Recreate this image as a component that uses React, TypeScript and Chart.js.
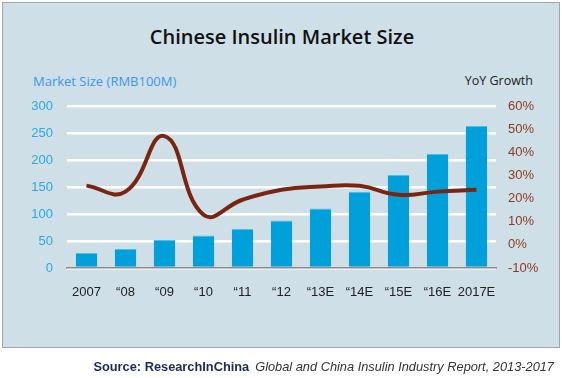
import React, { useEffect, useRef } from "react";
import { Chart, registerables } from "chart.js";

Chart.register(...registerables);

const categories = ["2007", "“08", "“09", "“10", "“11", "“12", "“13E", "“14E", "“15E", "“16E", "2017E"];
const marketSize = [28, 35, 52, 60, 72, 88, 110, 141, 172, 211, 263];
const yoyGrowth = [25.6, 23, 47, 13, 19.5, 23.8, 25.2, 25.5, 21.6, 23, 23.8];
const leftTicks = [0, 50, 100, 150, 200, 250, 300];
const rightTicks = [-10, 0, 10, 20, 30, 40, 50, 60];

const TICK_FONT = { family: "'Liberation Sans', Arial, sans-serif", size: 13 };

export default function App() {
  const ref = useRef<HTMLCanvasElement | null>(null);

  useEffect(() => {
    document.body.style.margin = "0";
    const canvas = ref.current;
    if (!canvas) return;
    const chart = new Chart(canvas, {
      type: "bar",
      data: {
        labels: categories,
        datasets: [
          {
            type: "line",
            label: "YoY Growth",
            data: yoyGrowth,
            yAxisID: "y1",
            borderColor: "#7A2412",
            borderWidth: 4,
            pointRadius: 0,
            tension: 0.45,
            order: 0,
          },
          {
            type: "bar",
            label: "Market Size",
            data: marketSize,
            yAxisID: "y",
            backgroundColor: "#02A0DA",
            borderColor: "#4DC0EA",
            borderWidth: { top: 1, left: 0, right: 0, bottom: 0 },
            categoryPercentage: 1,
            barPercentage: 0.55,
            order: 1,
          },
        ],
      },
      options: {
        animation: false,
        responsive: false,
        maintainAspectRatio: false,
        devicePixelRatio: 1,
        layout: { padding: { top: 106, left: 0, right: 0, bottom: 0 } },
        plugins: { legend: { display: false }, tooltip: { enabled: false }, title: { display: false } },
        scales: {
          x: {
            grid: { display: false, drawTicks: false },
            border: { display: true, color: "#8A8A8A", width: 1.5 },
            ticks: { color: "#222", font: TICK_FONT, padding: 17, maxRotation: 0, autoSkip: false },
            afterFit: (s: any) => { s.height = 110; },
          },
          y: {
            position: "left",
            min: 0,
            max: 300,
            afterBuildTicks: (s: any) => { s.ticks = leftTicks.map((v) => ({ value: v })); },
            grid: { color: "#FFFFFF", lineWidth: 2.5, drawTicks: false },
            border: { display: false },
            ticks: { color: "#2AA8E0", font: TICK_FONT, padding: 14 },
            afterFit: (s: any) => { s.width = 67; },
          },
          y1: {
            position: "right",
            min: -10,
            max: 60,
            afterBuildTicks: (s: any) => { s.ticks = rightTicks.map((v) => ({ value: v })); },
            grid: { display: false, drawTicks: false },
            border: { display: false },
            ticks: { color: "#8E3A20", font: TICK_FONT, padding: 12, callback: (v: any) => `${v}%` },
            afterFit: (s: any) => { s.width = 66; },
          },
        },
      },
    });
    return () => chart.destroy();
  }, []);

  return (
    <div style={{ position: "relative", width: 562, height: 378, overflow: "hidden", background: "#fff" }}>
      <div
        style={{
          position: "absolute",
          left: 2,
          top: 2,
          width: 556,
          height: 344,
          background: "#CFDFE7",
          border: "1px solid #A2A6A8",
        }}
      />
      <div
        style={{
          position: "absolute",
          left: 0,
          width: 562,
          top: 23,
          textAlign: "center",
          fontFamily: "'Open Sans', sans-serif",
          fontWeight: 600,
          fontSize: 20,
          color: "#111",
        }}
      >
        <span style={{ position: "relative", left: 1 }}>Chinese Insulin Market Size</span>
      </div>
      <div
        style={{
          position: "absolute",
          left: 33,
          top: 72,
          fontFamily: "'Open Sans', sans-serif",
          fontSize: 13,
          color: "#3A98E8",
        }}
      >
        Market Size (RMB100M)
      </div>
      <div
        style={{
          position: "absolute",
          right: 29,
          top: 72,
          fontFamily: "'Open Sans', sans-serif",
          fontSize: 12.5,
          color: "#222",
        }}
      >
        YoY Growth
      </div>
      <canvas ref={ref} width={562} height={378} style={{ position: "absolute", left: 0, top: 0, width: 562, height: 378 }} />
      <div
        style={{
          position: "absolute",
          right: 8,
          top: 359,
          fontFamily: "'Liberation Sans', Arial, sans-serif",
          fontSize: 12.8,
          whiteSpace: "nowrap",
        }}
      >
        <span style={{ fontWeight: 700, color: "#1E2A55" }}>Source: ResearchInChina</span>
        <span style={{ fontStyle: "italic", color: "#333", marginLeft: 6 }}>
          Global and China Insulin Industry Report, 2013-2017
        </span>
      </div>
    </div>
  );
}
